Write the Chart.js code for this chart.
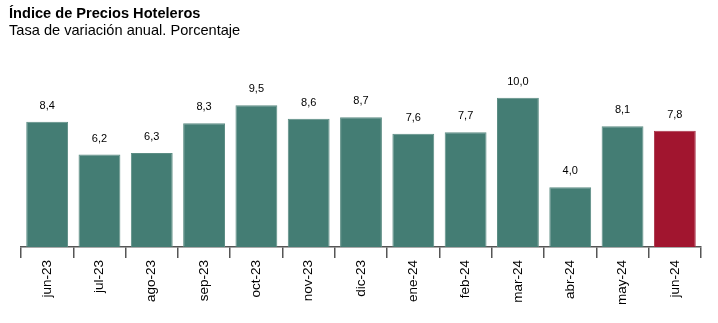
<!DOCTYPE html>
<html>
<head>
<meta charset="utf-8">
<script src="https://cdn.jsdelivr.net/npm/chart.js@4"></script>
<style>
  body { margin:0; background:#fff; font-family:"Liberation Sans", Arial, sans-serif; }
  #wrap { position:relative; width:718px; height:323px; }
  #titulo { position:absolute; left:9px; top:5px; font-size:14.6px; line-height:17px; color:#000; }
  #titulo b { font-weight:bold; }
  canvas { position:absolute; left:0; top:0; }
</style>
</head>
<body>
<div id="wrap">
  <canvas id="myChart" width="718" height="323"></canvas>
  <div id="titulo"><b>Índice de Precios Hoteleros</b><br>Tasa de variación anual. Porcentaje</div>
</div>
<script>
// datos
var meses = ['jun-23','jul-23','ago-23','sep-23','oct-23','nov-23','dic-23','ene-24','feb-24','mar-24','abr-24','may-24','jun-24'];
var tasas = [8.4, 6.2, 6.3, 8.3, 9.5, 8.6, 8.7, 7.6, 7.7, 10.0, 4.0, 8.1, 7.8];

var verde = '#447d74';
var rojo = '#a1152f';

// ultimo mes en rojo
var colores = tasas.map(function(v, i){ return i == tasas.length-1 ? rojo : verde; });
var bordes = tasas.map(function(v, i){ return i == tasas.length-1 ? '#a93349' : '#5c8d84'; });

// etiquetas encima de las barras
var etiquetas = {
	id: 'etiquetas',
	afterDatasetsDraw: function(chart){
		var ctx = chart.ctx;
		var meta = chart.getDatasetMeta(0);
		ctx.save();
		ctx.font = '11px "Liberation Sans", Arial, sans-serif';
		ctx.fillStyle = '#000';
		ctx.textAlign = 'center';
		ctx.textBaseline = 'middle';
		meta.data.forEach(function(bar, i){
			ctx.fillText(tasas[i].toFixed(1).replace('.', ','), bar.x, bar.y - 16);
		});
		ctx.restore();
	}
};

var ctx = document.getElementById('myChart').getContext('2d');
var myChart = new Chart(ctx, {
	type: 'bar',
	data: {
		labels: meses,
		datasets: [{
			data: tasas,
			backgroundColor: colores,
			borderColor: bordes,
			borderWidth: 1,
			barPercentage: 0.8,
			categoryPercentage: 1
		}]
	},
	options: {
		responsive: false,
		animation: false,
		layout: { padding: { left: 21, right: 17, top: 68, bottom: 0 } },
		plugins: {
			legend: { display: false },
			tooltip: { enabled: false }
		},
		scales: {
			x: {
				afterFit: function(scale){ scale.height = 76; },
				border: { display: true, color: '#555', width: 1.5 },
				grid: { offset: true, drawOnChartArea: false, drawTicks: true, tickLength: 11, color: '#555', lineWidth: 1.5 },
				ticks: {
					minRotation: 90, maxRotation: 90, padding: 2,
					color: '#000',
					font: { family: '"Liberation Sans", Arial, sans-serif', size: 13.5 }
				}
			},
			y: {
				display: false,
				min: 0,
				max: 12
			}
		}
	},
	plugins: [etiquetas]
});
</script>
</body>
</html>
